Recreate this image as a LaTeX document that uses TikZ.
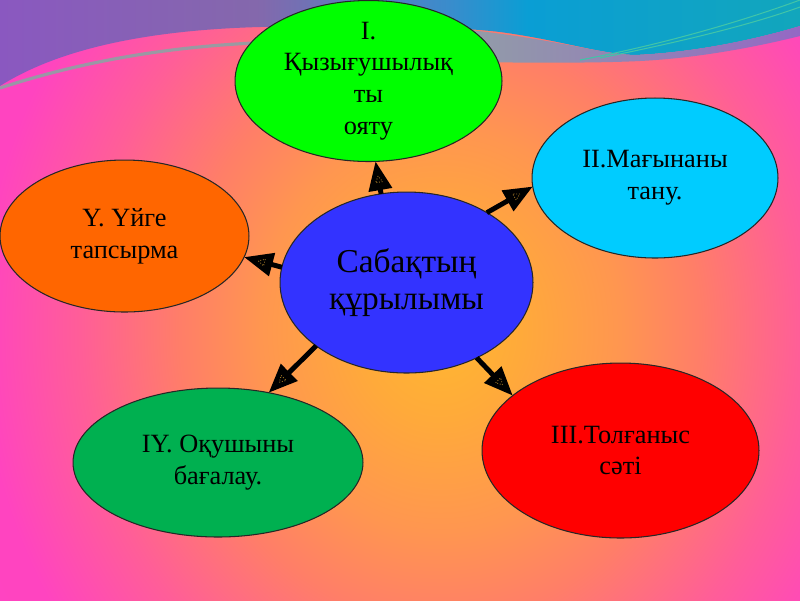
\documentclass[tikz,border=0pt]{standalone}
\usepackage{fontspec}
\setmainfont{Liberation Serif}
\usetikzlibrary{arrows.meta,shapes.geometric,calc}

\definecolor{cG}{HTML}{00FF00}
\definecolor{cC}{HTML}{00CCFF}
\definecolor{cO}{HTML}{FF6600}
\definecolor{cB}{HTML}{3333FF}
\definecolor{cD}{HTML}{00B050}
\definecolor{cR}{HTML}{FF0000}

\definecolor{bgA}{HTML}{FFB830}
\definecolor{bgB}{HTML}{FFAA3A}
\definecolor{bgC}{HTML}{FF9650}
\definecolor{bgD}{HTML}{FF7E68}
\definecolor{bgE}{HTML}{FF5E98}
\definecolor{bgF}{HTML}{FF44C0}
\definecolor{bgG}{HTML}{FF40C8}

\definecolor{tA}{HTML}{8A58C0}
\definecolor{tB}{HTML}{8468AC}
\definecolor{tC}{HTML}{3A8CCC}
\definecolor{tD}{HTML}{0A9ED4}
\definecolor{tE}{HTML}{12A6BC}
\definecolor{grL}{HTML}{90A0A4}
\definecolor{grR}{HTML}{9468C4}
\definecolor{grM}{HTML}{929CA8}
\definecolor{tealln}{HTML}{40C4A8}
\definecolor{tipdot}{HTML}{A07828}

\pgfdeclareradialshading{bgrad}{\pgfpoint{0bp}{0bp}}{color(0bp)=(bgA); color(4bp)=(bgB); color(9bp)=(bgC); color(13bp)=(bgD); color(18bp)=(bgE); color(23bp)=(bgF); color(50bp)=(bgG)}
\pgfdeclarehorizontalshading{topband}{100bp}{color(0bp)=(tA); color(25bp)=(tA); color(41bp)=(tB); color(53bp)=(tC); color(58bp)=(tD); color(75bp)=(tE); color(100bp)=(tE)}

\tikzset{
  bub/.style={ellipse, draw=black!85, line width=0.6pt, inner sep=0pt, outer sep=0pt,
    align=center, text=black, font=\fontsize{15}{18}\selectfont},
  arr/.style={line width=2.8pt, -{Triangle[length=16.5pt,width=13pt]}},
  innertri/.style={isosceles triangle, isosceles triangle stretches, draw=tipdot,
    densely dotted, line width=0.5pt, inner sep=0pt, outer sep=0pt,
    minimum width=4pt, minimum height=3.5pt, sloped, allow upside down, anchor=apex},
}

\begin{document}
\begin{tikzpicture}[x=0.02cm,y=-0.02cm]
\useasboundingbox (0,0) rectangle (800,600);
\begin{scope}
  \clip (0,0) rectangle (800,600);
  % background radial gradient
  \shade[shading=bgrad] (-60,-230) rectangle (940,890);
  % top band
  \shade[shading=topband] (0,86) .. controls (60,48) and (150,30) .. (260,27)
     .. controls (360,25) and (450,26) .. (500,32)
     .. controls (560,40) and (600,54) .. (635,55)
     .. controls (700,52) and (760,38) .. (800,26) -- (800,0) -- (0,0) -- cycle;
  % gray band on the right
  \shade[left color=grM, right color=grR]
     (470,30) .. controls (560,40) and (600,54) .. (635,55)
     .. controls (700,52) and (760,38) .. (800,26) -- (800,36)
     .. controls (760,46) and (700,58) .. (640,61)
     .. controls (600,63) and (540,63) .. (470,62) -- cycle;
  % thin gray line on the left
  \draw[grL, line width=1.8pt, opacity=0.9] (0,88) .. controls (80,62) and (170,45) .. (280,42);
  % thin teal lines
  \draw[tealln, line width=0.6pt] (580,60) .. controls (660,45) and (740,22) .. (800,0);
  \draw[tealln, line width=0.6pt] (600,58) .. controls (680,42) and (750,25) .. (800,7);
\end{scope}

\node[bub, fill=cG, inner ysep=-2pt, minimum width=5.34cm, minimum height=3.22cm] (g) at (368.5,81)
  {I.\\Қызығушылық\\ты\\ояту};
\node[bub, fill=cC, minimum width=4.92cm, minimum height=3.2cm] (cy) at (655,178)
  {II.Мағынаны\\тану.};
\node[bub, fill=cO, minimum width=4.98cm, minimum height=3.04cm] (o) at (124.5,236)
  {Y. Үйге\\тапсырма};
\node[bub, fill=cB, font=\fontsize{19}{21.5}\selectfont, minimum width=5.06cm, minimum height=3.62cm] (c) at (406.5,282.5)
  {Сабақтың\\құрылымы};
\node[bub, fill=cD, minimum width=5.8cm, minimum height=2.98cm] (d) at (218,462.5)
  {IY. Оқушыны\\бағалау.};
\node[bub, fill=cR, minimum width=5.54cm, minimum height=3.5cm] (r) at (620.5,450.5)
  {III.Толғаныс\\сәті};

\draw[arr] (c.106) -- (g.275.6);
\draw[arr] (c.41) -- (cy.184);
\draw[arr] (c.173) -- (o.350);
\draw[arr] (c.215) -- (d.54.5);
\draw[arr] (c.313) -- (r.153);

\path (c.106) -- ($(g.275.6)!8.5pt!(c.106)$) node[innertri, pos=1] (t1) {};
\path (c.41) -- ($(cy.184)!8.5pt!(c.41)$) node[innertri, pos=1] (t2) {};
\path (c.173) -- ($(o.350)!8.5pt!(c.173)$) node[innertri, pos=1] (t3) {};
\path (c.215) -- ($(d.54.5)!8.5pt!(c.215)$) node[innertri, pos=1] (t4) {};
\path (c.313) -- ($(r.153)!8.5pt!(c.313)$) node[innertri, pos=1] (t5) {};
\end{tikzpicture}
\end{document}
